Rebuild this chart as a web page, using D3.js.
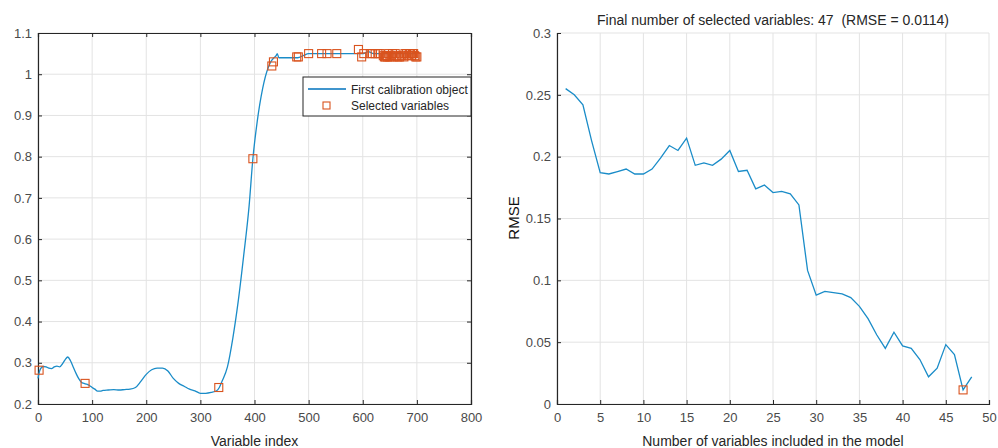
<!DOCTYPE html>
<html>
<head>
<meta charset="utf-8">
<script src="https://cdn.jsdelivr.net/npm/d3@7"></script>
<style>
  body { margin: 0; background: #fff; }
  text { font-family: "Liberation Sans", Arial, sans-serif; fill: #262626; }
</style>
</head>
<body>
<svg id="chart" width="998" height="448"></svg>
<script>
// spectrum of first calibration object (variable index / value)
var specIndex = [0, 3, 6, 10, 15, 20, 25, 30, 35, 40, 45, 50, 55, 60, 65, 70, 75, 80, 85, 90, 95, 100, 105, 110, 115, 120, 130, 140, 150, 160, 170, 180, 190, 200, 210, 220, 230, 240, 250, 260, 270, 280, 290, 300, 310, 320, 330, 335, 340, 350, 360, 370, 380, 390, 397, 405, 415, 425, 430, 436, 440, 442, 445, 460, 480, 490, 500, 550, 600, 605, 610, 620, 650, 700];
var specValue = [0.262, 0.28, 0.288, 0.291, 0.29, 0.287, 0.286, 0.29, 0.292, 0.29, 0.297, 0.307, 0.314, 0.305, 0.29, 0.275, 0.262, 0.253, 0.25, 0.248, 0.245, 0.24, 0.236, 0.231, 0.231, 0.233, 0.234, 0.235, 0.234, 0.235, 0.236, 0.24, 0.255, 0.272, 0.283, 0.287, 0.287, 0.28, 0.262, 0.25, 0.243, 0.236, 0.232, 0.226, 0.226, 0.228, 0.232, 0.24, 0.255, 0.29, 0.36, 0.45, 0.56, 0.68, 0.795, 0.885, 0.965, 1.015, 1.03, 1.04, 1.045, 1.05, 1.04, 1.04, 1.04, 1.045, 1.05, 1.05, 1.05, 1.052, 1.055, 1.05, 1.05, 1.05];

// selected variables
var selIndex = [2, 87, 334, 397, 432, 435, 478, 481, 500, 524, 534, 552, 592, 598, 602, 614, 618, 623, 628, 632, 638, 640, 642, 644, 646, 648, 650, 652, 655, 658, 660, 662, 665, 668, 672, 676, 678, 681, 684, 686, 688, 690, 692, 694, 696, 698, 700];
var selValue = [0.282, 0.25, 0.24, 0.795, 1.02, 1.03, 1.042, 1.042, 1.05, 1.05, 1.05, 1.05, 1.06, 1.042, 1.05, 1.05, 1.05, 1.05, 1.05, 1.05, 1.045, 1.042, 1.042, 1.045, 1.042, 1.05, 1.042, 1.045, 1.05, 1.042, 1.05, 1.045, 1.042, 1.042, 1.045, 1.042, 1.05, 1.05, 1.045, 1.05, 1.05, 1.045, 1.05, 1.05, 1.045, 1.042, 1.042];

// RMSE vs number of variables
var nVars = d3.range(1, 49);
var rmse = [0.255, 0.25, 0.242, 0.213, 0.187, 0.186, 0.188, 0.19, 0.186, 0.186, 0.19, 0.199, 0.209, 0.205, 0.215, 0.193, 0.195, 0.193, 0.198, 0.205, 0.188, 0.189, 0.174, 0.177, 0.171, 0.172, 0.17, 0.161, 0.108, 0.088, 0.091, 0.09, 0.089, 0.086, 0.079, 0.069, 0.056, 0.045, 0.058, 0.047, 0.045, 0.036, 0.022, 0.029, 0.048, 0.04, 0.0114, 0.022];
var bestN = 47, bestRmse = 0.0114;

var leftYTicks = [0.2, 0.3, 0.4, 0.5, 0.6, 0.7, 0.8, 0.9, 1, 1.1];
var leftXTicks = [0, 100, 200, 300, 400, 500, 600, 700, 800];
var rightYTicks = [0, 0.05, 0.1, 0.15, 0.2, 0.25, 0.3];
var rightXTicks = [0, 5, 10, 15, 20, 25, 30, 35, 40, 45, 50];

var blue = "#1a8cc8", orange = "#d9531e", axisCol = "#262626", tickTxt = "#4a4a4a", gridCol = "#e3e3e3";

var svg = d3.select("#chart");

function drawAxes(g, x, y, xt, yt, box) {
  var x0 = x.range()[0], x1 = x.range()[1], y0 = y.range()[0], y1 = y.range()[1];
  // grid
  g.selectAll(".gx").data(xt).enter().append("line")
    .attr("x1", function(d) { return x(d); }).attr("x2", function(d) { return x(d); })
    .attr("y1", y0).attr("y2", y1).attr("stroke", gridCol);
  g.selectAll(".gy").data(yt).enter().append("line")
    .attr("y1", function(d) { return y(d); }).attr("y2", function(d) { return y(d); })
    .attr("x1", x0).attr("x2", x1).attr("stroke", gridCol);

  var xa = g.append("g").attr("transform", "translate(0," + y0 + ")")
    .call(d3.axisBottom(x).tickValues(xt).tickSize(-4).tickPadding(9).tickFormat(d3.format("")));
  var ya = g.append("g").attr("transform", "translate(" + x0 + ",0)")
    .call(d3.axisLeft(y).tickValues(yt).tickSize(-4).tickPadding(6).tickFormat(d3.format("")));
  [xa, ya].forEach(function(a) {
    a.select(".domain").attr("stroke", axisCol).attr("stroke-width", 1.2);
    a.selectAll(".tick line").attr("stroke", axisCol);
    a.selectAll(".tick text").style("font-size", "13px").style("fill", tickTxt);
  });
  if (box) {
    var xt2 = g.append("g").attr("transform", "translate(0," + y1 + ")")
      .call(d3.axisTop(x).tickValues(xt).tickSize(-4).tickFormat(""));
    var yt2 = g.append("g").attr("transform", "translate(" + x1 + ",0)")
      .call(d3.axisRight(y).tickValues(yt).tickSize(-4).tickFormat(""));
    [xt2, yt2].forEach(function(a) {
      a.select(".domain").attr("stroke", axisCol).attr("stroke-width", 1.2);
      a.selectAll(".tick line").attr("stroke", axisCol);
    });
  }
}

// ---- left panel
var xL = d3.scaleLinear().domain([0, 800]).range([38, 471]);
var yL = d3.scaleLinear().domain([0.2, 1.1]).range([404, 33]);
var gL = svg.append("g");
drawAxes(gL, xL, yL, leftXTicks, leftYTicks, true);

var spec = specIndex.map(function(d, i) { return [d, specValue[i]]; });
gL.append("path").datum(spec)
  .attr("fill", "none").attr("stroke", blue).attr("stroke-width", 1.3)
  .attr("d", d3.line().x(function(d) { return xL(d[0]); }).y(function(d) { return yL(d[1]); }).curve(d3.curveMonotoneX));

gL.selectAll(".sel").data(selIndex).enter().append("rect")
  .attr("x", function(d) { return xL(d) - 4; })
  .attr("y", function(d, i) { return yL(selValue[i]) - 4; })
  .attr("width", 8).attr("height", 8)
  .attr("fill", "none").attr("stroke", orange).attr("stroke-width", 1.1);

// legend
var leg = gL.append("g").attr("transform", "translate(303,77)");
leg.append("rect").attr("width", 168).attr("height", 39)
  .attr("fill", "#fff").attr("stroke", axisCol).attr("stroke-width", 1);
leg.append("line").attr("x1", 5).attr("x2", 43).attr("y1", 12).attr("y2", 12)
  .attr("stroke", "#0072BD").attr("stroke-width", 1.3);
leg.append("rect").attr("x", 20).attr("y", 25).attr("width", 7).attr("height", 7)
  .attr("fill", "none").attr("stroke", orange).attr("stroke-width", 1.1);
leg.append("text").attr("x", 48).attr("y", 16.5).style("font-size", "12px").text("First calibration object");
leg.append("text").attr("x", 48).attr("y", 33).style("font-size", "12px").text("Selected variables");

gL.append("text").attr("x", (38 + 471) / 2).attr("y", 446).attr("text-anchor", "middle")
  .style("font-size", "14px").text("Variable index");

// ---- right panel
var xR = d3.scaleLinear().domain([0, 50]).range([557, 989]);
var yR = d3.scaleLinear().domain([0, 0.3]).range([404, 33]);
var gR = svg.append("g");
drawAxes(gR, xR, yR, rightXTicks, rightYTicks, false);

gR.append("path").datum(nVars)
  .attr("fill", "none").attr("stroke", blue).attr("stroke-width", 1.3)
  .attr("d", d3.line().x(function(d) { return xR(d); }).y(function(d, i) { return yR(rmse[i]); }));

gR.append("rect").attr("x", xR(bestN) - 4).attr("y", yR(bestRmse) - 4)
  .attr("width", 8).attr("height", 8)
  .attr("fill", "none").attr("stroke", orange).attr("stroke-width", 1.1);

gR.append("text").attr("x", 773).attr("y", 25).attr("text-anchor", "middle")
  .style("font-size", "14px")
  .text("Final number of selected variables: " + bestN + "\u00a0\u00a0(RMSE = " + bestRmse.toFixed(4) + ")");

gR.append("text").attr("x", (557 + 989) / 2).attr("y", 446).attr("text-anchor", "middle")
  .style("font-size", "14px").text("Number of variables included in the model");

gR.append("text").attr("transform", "translate(519,218) rotate(-90)").attr("text-anchor", "middle")
  .style("font-size", "15px").style("fill", "#111").text("RMSE");
</script>
</body>
</html>
